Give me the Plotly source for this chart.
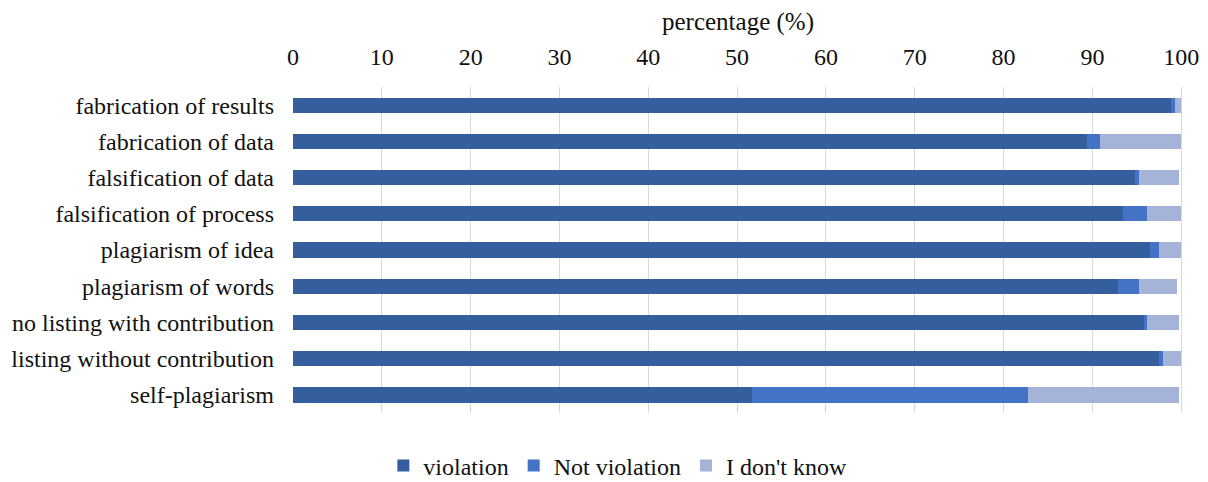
import plotly.graph_objects as go

categories = [
    "fabrication of results",
    "fabrication of data",
    "falsification of data",
    "falsification of process",
    "plagiarism of idea",
    "plagiarism of words",
    "no listing with contribution",
    "listing without contribution",
    "self-plagiarism",
]
violation = [98.8, 89.4, 94.8, 93.4, 96.5, 92.9, 95.8, 97.5, 51.7]
not_violation = [0.5, 1.5, 0.5, 2.8, 1.0, 2.4, 0.4, 0.5, 31.1]
dont_know = [0.7, 9.1, 4.5, 3.8, 2.5, 4.2, 3.6, 2.0, 17.0]
tick_vals = [0, 10, 20, 30, 40, 50, 60, 70, 80, 90, 100]

FONT = "Liberation Serif"
FS = 24

fig = go.Figure()
series = [
    ("violation", violation, "#355E9F"),
    ("Not violation", not_violation, "#4472C4"),
    ("I don't know", dont_know, "#A5B3D8"),
]
for name, vals, color in series:
    fig.add_trace(go.Bar(
        y=categories, x=vals, name=name, orientation="h",
        marker=dict(color=color, line=dict(width=0)),
    ))

fig.update_layout(
    barmode="stack",
    bargap=0.58,
    width=1208, height=482,
    margin=dict(l=293, r=25, t=87, b=69, autoexpand=False),
    paper_bgcolor="white", plot_bgcolor="white",
    font=dict(family=FONT, size=FS, color="#111111"),
    legend=dict(orientation="h", x=0.365, xanchor="center", y=-0.093, yanchor="top",
                font=dict(family=FONT, size=FS), traceorder="normal",
                itemwidth=30),
    xaxis=dict(
        side="top", range=[0, 100.2], tickvals=tick_vals,
        showgrid=True, gridcolor="#D9D9D9", gridwidth=1,
        zeroline=False, showline=False, ticks="", automargin=False,
        ticklabelstandoff=16,
        tickfont=dict(family=FONT, size=FS),
        title=dict(text="percentage (%)", font=dict(family=FONT, size=FS + 1), standoff=6),
    ),
    yaxis=dict(
        autorange="reversed", showgrid=False, zeroline=False, showline=False,
        ticks="", automargin=False, ticklabelstandoff=18,
        tickfont=dict(family=FONT, size=FS),
    ),
)

fig.write_html(
    "out.html",
    config={"displayModeBar": False},
    post_script="document.body.style.margin='0';document.body.style.padding='0';",
)
